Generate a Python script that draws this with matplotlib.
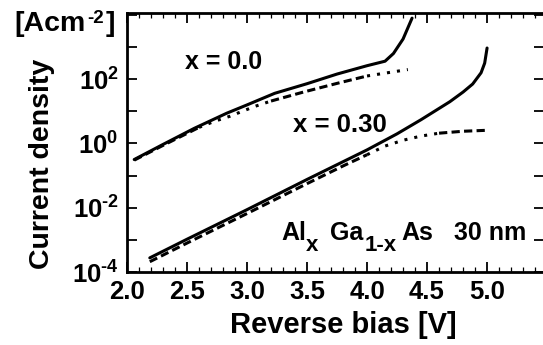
import numpy as np
import matplotlib
matplotlib.use("Agg")
import matplotlib.pyplot as plt
from matplotlib.ticker import FixedLocator, FuncFormatter, MultipleLocator, LogLocator, NullFormatter

plt.rcParams['font.family'] = ['Liberation Sans', 'DejaVu Sans']
plt.rcParams['font.weight'] = 'bold'
plt.rcParams['mathtext.fontset'] = 'custom'
plt.rcParams['mathtext.rm'] = 'Liberation Sans:bold'
plt.rcParams['mathtext.it'] = 'Liberation Sans:bold'
plt.rcParams['mathtext.bf'] = 'Liberation Sans:bold'
plt.rcParams['mathtext.sf'] = 'Liberation Sans:bold'

# ---- data ----
# x = 0.0, solid (measured)
v00_solid = [2.06, 2.3, 2.56, 2.83, 3.0, 3.23, 3.5, 3.75, 4.0, 4.15, 4.22, 4.3, 4.375]
logj00_solid = [-0.5, -0.03, 0.47, 0.94, 1.2, 1.56, 1.86, 2.16, 2.42, 2.56, 2.8, 3.25, 3.9]
# x = 0.0, dashed (calculated)
v00_dash = [2.06, 2.3, 2.6, 2.73, 2.86, 2.96, 3.07, 3.2, 3.47, 3.75, 4.0, 4.34]
logj00_dash = [-0.52, -0.06, 0.5, 0.69, 0.85, 1.0, 1.16, 1.32, 1.6, 1.87, 2.1, 2.3]
# x = 0.30, solid (measured)
v30_solid = [2.19, 2.5, 3.0, 3.5, 4.0, 4.25, 4.45, 4.69, 4.8, 4.88, 4.95, 4.98, 5.0]
logj30_solid = [-3.56, -2.98, -2.06, -1.12, -0.2, 0.3, 0.74, 1.3, 1.6, 1.85, 2.2, 2.5, 2.97]
# x = 0.30, dashed (calculated)
v30_dash = [2.19, 2.5, 3.0, 3.5, 3.8, 4.0, 4.15, 4.3, 4.45, 4.6, 4.8, 5.0]
logj30_dash = [-3.68, -3.1, -2.18, -1.25, -0.7, -0.35, -0.08, 0.1, 0.23, 0.32, 0.38, 0.41]

xticks = [2.0, 2.5, 3.0, 3.5, 4.0, 4.5, 5.0]
yexps = [-4, -3, -2, -1, 0, 1, 2, 3, 4]

fig = plt.figure(figsize=(5.43, 3.45), dpi=100)
ax = fig.add_axes([127/543, 1-272/345, 1-127/543 + 0.002, (272-13)/345])
ax.set_yscale('log')
ax.set_xlim(2.0, 5.475)
ax.set_ylim(1e-4, 10**4.06)

lw = 2.2
DASH = (0, (2.7, 1.4))
DOT = (0, (1.0, 2.3))

def seg(v, lj, lo, hi, ls):
    v = np.asarray(v); lj = np.asarray(lj)
    m = (v >= lo - 1e-9) & (v <= hi + 1e-9)
    ax.plot(v[m], 10**lj[m], color='black', lw=lw, ls=ls, solid_capstyle='butt', dash_capstyle='butt')

# dashed curves (mixed dash / dot pattern as in the reference)
seg(v00_dash, logj00_dash, 2.06, 2.6, DASH)
seg(v00_dash, logj00_dash, 2.6, 3.2, DOT)
seg(v00_dash, logj00_dash, 3.2, 4.0, DASH)
seg(v00_dash, logj00_dash, 4.0, 4.34, DOT)
seg(v30_dash, logj30_dash, 2.19, 4.0, DASH)
seg(v30_dash, logj30_dash, 4.0, 4.6, DOT)
seg(v30_dash, logj30_dash, 4.6, 5.0, DASH)

ax.plot(v00_solid, 10**np.asarray(logj00_solid), color='black', lw=lw, solid_capstyle='round',
        solid_joinstyle='round')
ax.plot(v30_solid, 10**np.asarray(logj30_solid), color='black', lw=lw, solid_capstyle='round',
        solid_joinstyle='round')

# ticks
ax.xaxis.set_major_locator(FixedLocator(xticks))
ax.xaxis.set_minor_locator(MultipleLocator(0.1))
ax.xaxis.set_major_formatter(FuncFormatter(lambda x, p: f"{x:.1f}"))
ax.yaxis.set_major_locator(FixedLocator([10.0**e for e in yexps]))
ax.yaxis.set_minor_locator(LogLocator(base=10, subs=np.arange(2, 10)))
ax.yaxis.set_minor_formatter(NullFormatter())
def yfmt(y, p):
    e = int(round(np.log10(y)))
    if e % 2 != 0 or e > 2:
        return ""
    s = r"\text{-}%d" % abs(e) if e < 0 else "%d" % e
    return r"$\mathbf{10^{%s}}$" % s
ax.yaxis.set_major_formatter(FuncFormatter(yfmt))

ax.tick_params(which='major', direction='in', length=7, width=1.3, top=True, right=True,
               labelsize=18.5, pad=6)
ax.tick_params(which='minor', direction='in', length=3.5, width=0.9, top=True, right=False)
for s in ax.spines.values():
    s.set_linewidth(2.0)
for lab in ax.get_xticklabels() + ax.get_yticklabels():
    lab.set_fontweight('bold')

# ---- compound labels, pieces placed at their positions ----
def piece(xpx, ypx, txt, fs):
    fig.text(xpx / 543, 1 - ypx / 345, txt, fontsize=fs, fontweight='bold', va='baseline', ha='left')

piece(14, 31, "[Acm", 20.5)
piece(87, 23, "-2", 13.5)
piece(106, 31, "]", 20.5)

piece(281, 240, "Al", 18)
piece(306, 251, "x", 16)
piece(330, 240, "Ga", 18)
piece(365, 251, "1-x", 16)
piece(401, 240, "As", 18)
piece(454, 240, "30 nm", 18)

fig.text(42/543, 1-164/345, "Current density", rotation=90, fontsize=20.5, fontweight='bold',
         va='center', ha='center')
fig.text(343/543, 1-325/345, "Reverse bias [V]", fontsize=21, fontweight='bold', va='center', ha='center')

ax.text(185/543, 1-62/345, "x = 0.0", transform=fig.transFigure, fontsize=18, fontweight='bold',
        va='center', ha='left')
ax.text(293/543, 1-125/345, "x = 0.30", transform=fig.transFigure, fontsize=18.5, fontweight='bold',
        va='center', ha='left')

fig.savefig("out.png", dpi=100)
